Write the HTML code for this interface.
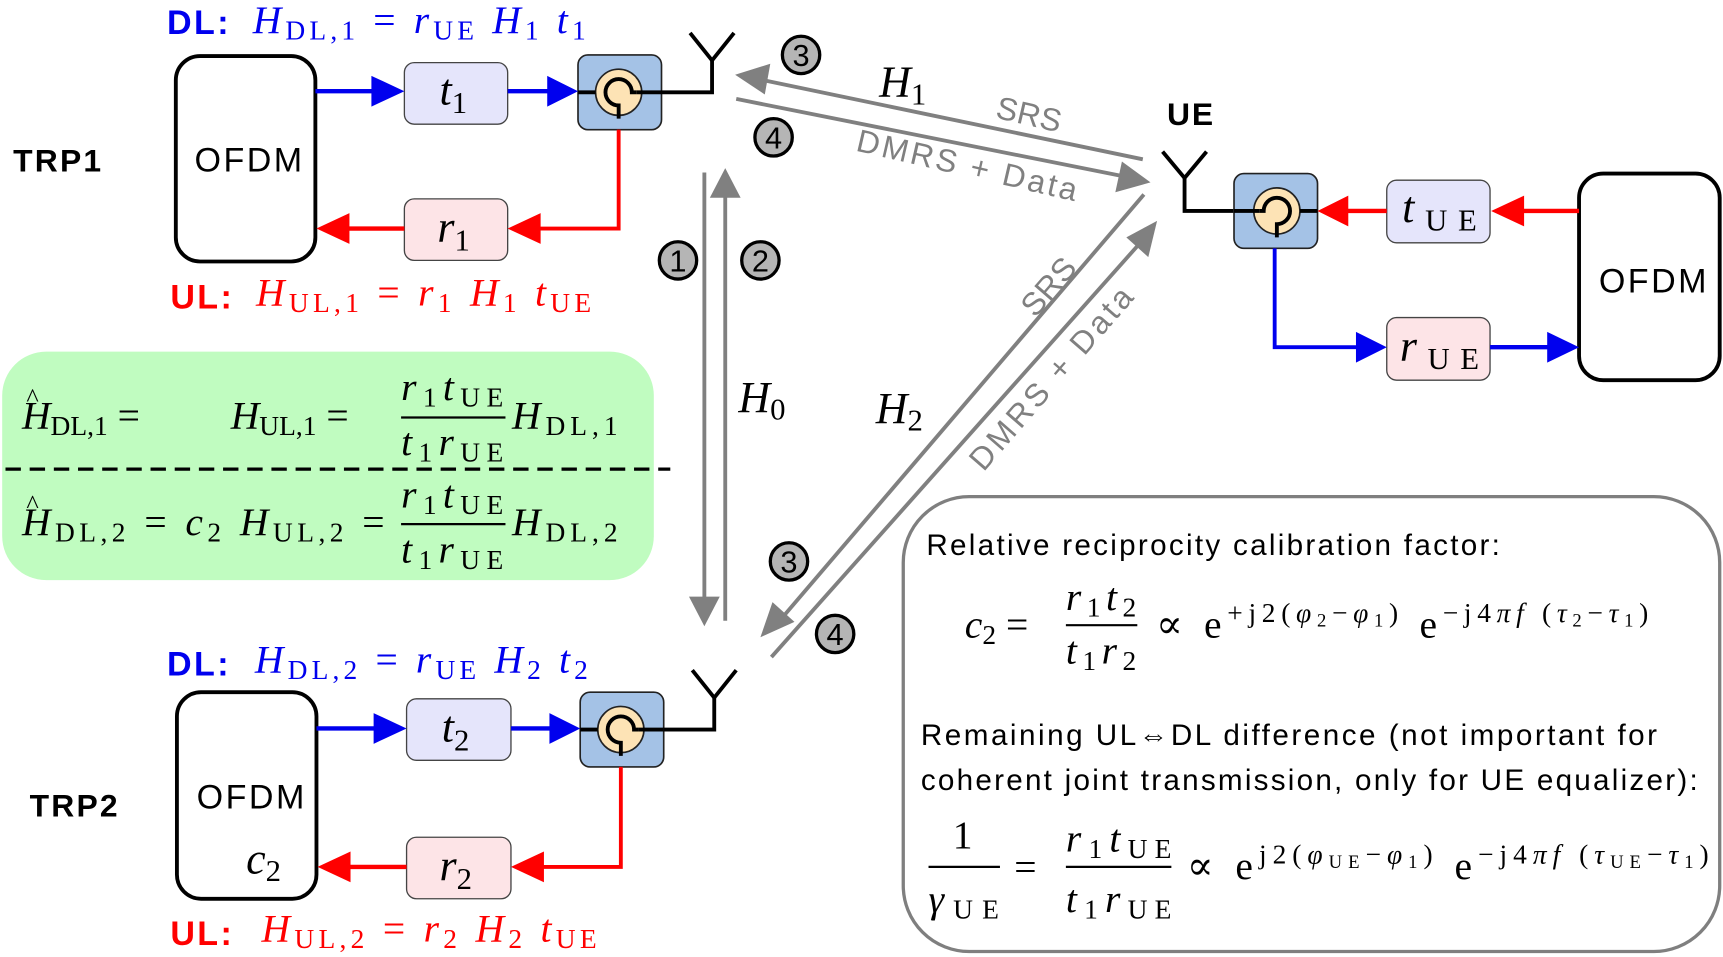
<!DOCTYPE html>
<html><head><meta charset="utf-8"><style>
html,body{margin:0;padding:0;background:#fff;}
svg{display:block;}
.m{font-family:"Liberation Serif","DejaVu Serif",serif;font-style:italic;}
.r{font-style:normal;}
.s{font-family:"Liberation Sans","DejaVu Sans",sans-serif;}
.b{font-weight:bold;}
</style></head><body>
<svg width="1723" height="957" viewBox="0 0 1568 871" preserveAspectRatio="none" xmlns="http://www.w3.org/2000/svg">
<defs>
<g id="circ">
<rect x="0" y="0" width="76" height="68" rx="9" fill="#a4c2e6" stroke="#222" stroke-width="1.5"/>
<circle cx="37" cy="34" r="21" fill="#fde3b5" stroke="#222" stroke-width="1.5"/>
<path d="M37 58 L37 46 A12 12 0 1 1 49 34 L53 34" fill="none" stroke="#000" stroke-width="3.5"/>
<line x1="0" y1="34" x2="16" y2="34" stroke="#000" stroke-width="3.5"/>
<line x1="53" y1="34" x2="76" y2="34" stroke="#000" stroke-width="3.5"/>
</g>
<g id="circnum"><circle r="17" fill="#b5b5b5" stroke="#000" stroke-width="3"/></g>
</defs>

<!-- ===== TRP1 ===== -->
<text x="152" y="31" class="s b" font-size="31" fill="#0000ee" textLength="56">DL:</text>
<text x="230" y="30" class="m" font-size="36" fill="#0000ee" textLength="303" lengthAdjust="spacing">H<tspan font-size="25" dy="6" class="r">DL,1</tspan><tspan dy="-6" class="r"> = </tspan>r<tspan font-size="25" dy="6" class="r">UE</tspan><tspan dy="-6"> H</tspan><tspan font-size="25" dy="6" class="r">1</tspan><tspan dy="-6"> t</tspan><tspan font-size="25" dy="6" class="r">1</tspan></text>
<text x="12" y="156" class="s b" font-size="29" textLength="80">TRP1</text>
<rect x="160" y="51" width="127" height="187" rx="22" fill="#fff" stroke="#000" stroke-width="3.5"/>
<text x="177" y="156" class="s" font-size="31" textLength="98">OFDM</text>
<rect x="368" y="57" width="94" height="56" rx="9" fill="#e5e5fb" stroke="#444" stroke-width="1.2"/>
<text x="400" y="95" class="m" font-size="40">t<tspan font-size="28" dy="8" class="r">1</tspan></text>
<rect x="368" y="181" width="94" height="56" rx="9" fill="#fde4e7" stroke="#444" stroke-width="1.2"/>
<text x="398" y="220" class="m" font-size="40">r<tspan font-size="28" dy="8" class="r">1</tspan></text>
<use href="#circ" x="526" y="50"/>
<line x1="287" y1="83" x2="340" y2="83" stroke="#0000ee" stroke-width="4"/>
<polygon points="338,69 368,83 338,97" fill="#0000ee"/>
<line x1="462" y1="83" x2="500" y2="83" stroke="#0000ee" stroke-width="4"/>
<polygon points="498,69 526,83 498,97" fill="#0000ee"/>
<polyline points="602,84 648,84 648,55" fill="none" stroke="#000" stroke-width="3.5"/>
<polyline points="628,30 648,55 668,30" fill="none" stroke="#000" stroke-width="3.5"/>
<polyline points="563,118 563,208 490,208" fill="none" stroke="#f00" stroke-width="3.5"/>
<polygon points="492,194 462,208 492,222" fill="#f00"/>
<line x1="368" y1="208" x2="315" y2="208" stroke="#f00" stroke-width="4"/>
<polygon points="318,194 288,208 318,222" fill="#f00"/>
<text x="155" y="281" class="s b" font-size="31" fill="#f00" textLength="56">UL:</text>
<text x="233" y="278" class="m" font-size="36" fill="#f00" textLength="305" lengthAdjust="spacing">H<tspan font-size="25" dy="6" class="r">UL,1</tspan><tspan dy="-6" class="r"> = </tspan>r<tspan font-size="25" dy="6" class="r">1</tspan><tspan dy="-6"> H</tspan><tspan font-size="25" dy="6" class="r">1</tspan><tspan dy="-6"> t</tspan><tspan font-size="25" dy="6" class="r">UE</tspan></text>

<!-- ===== Green box ===== -->
<rect x="2" y="320" width="593" height="208" rx="40" fill="#c0fcc0"/>
<line x1="5" y1="427" x2="610" y2="427" stroke="#000" stroke-width="3" stroke-dasharray="14,8"/>
<text x="20" y="390" class="m" font-size="36">H<tspan font-size="25" dy="6" class="r">DL,1</tspan><tspan dy="-6" class="r"> =</tspan></text>
<text x="24" y="370" class="m" font-size="24" style="font-style:normal">^</text>
<text x="210" y="390" class="m" font-size="36">H<tspan font-size="25" dy="6" class="r">UL,1</tspan><tspan dy="-6" class="r"> =</tspan></text>
<text x="365" y="364" class="m" font-size="36" textLength="93">r<tspan font-size="25" dy="6" class="r">1</tspan><tspan dy="-6">t</tspan><tspan font-size="25" dy="6" class="r">UE</tspan></text>
<line x1="365" y1="380" x2="460" y2="380" stroke="#000" stroke-width="2"/>
<text x="365" y="414" class="m" font-size="36" textLength="93">t<tspan font-size="25" dy="6" class="r">1</tspan><tspan dy="-6">r</tspan><tspan font-size="25" dy="6" class="r">UE</tspan></text>
<text x="466" y="390" class="m" font-size="36" textLength="96">H<tspan font-size="25" dy="6" class="r">DL,1</tspan></text>

<text x="20" y="487" class="m" font-size="36" textLength="330">H<tspan font-size="25" dy="6" class="r">DL,2</tspan><tspan dy="-6" class="r"> = </tspan>c<tspan font-size="25" dy="6" class="r">2</tspan><tspan dy="-6"> H</tspan><tspan font-size="25" dy="6" class="r">UL,2</tspan><tspan dy="-6" class="r"> =</tspan></text>
<text x="24" y="467" class="m" font-size="24" style="font-style:normal">^</text>
<text x="365" y="462" class="m" font-size="36" textLength="93">r<tspan font-size="25" dy="6" class="r">1</tspan><tspan dy="-6">t</tspan><tspan font-size="25" dy="6" class="r">UE</tspan></text>
<line x1="365" y1="477" x2="460" y2="477" stroke="#000" stroke-width="2"/>
<text x="365" y="512" class="m" font-size="36" textLength="93">t<tspan font-size="25" dy="6" class="r">1</tspan><tspan dy="-6">r</tspan><tspan font-size="25" dy="6" class="r">UE</tspan></text>
<text x="466" y="487" class="m" font-size="36" textLength="96">H<tspan font-size="25" dy="6" class="r">DL,2</tspan></text>

<!-- ===== Vertical H0 ===== -->
<line x1="641" y1="157" x2="641" y2="545" stroke="#808080" stroke-width="3.5"/>
<polygon points="627,543 641,570 655,543" fill="#808080"/>
<line x1="660" y1="565" x2="660" y2="178" stroke="#808080" stroke-width="3.5"/>
<polygon points="646,180 660,153 674,180" fill="#808080"/>
<text x="672" y="375" class="m" font-size="40">H<tspan font-size="28" dy="7" class="r">0</tspan></text>

<!-- ===== H1 ===== -->
<line x1="1040" y1="145" x2="695" y2="73" stroke="#808080" stroke-width="3.5"/>
<polygon points="669,68 701,58 696,86" fill="#808080"/>
<line x1="670" y1="90" x2="1020" y2="160" stroke="#808080" stroke-width="3.5"/>
<polygon points="1047,166 1015,175 1021,147" fill="#808080"/>
<text x="800" y="88" class="m" font-size="40">H<tspan font-size="28" dy="7" class="r">1</tspan></text>
<text x="905" y="107" class="s" font-size="29" fill="#808080" transform="rotate(13 905 107)" textLength="60">SRS</text>
<text x="778" y="137" class="s" font-size="29" fill="#808080" transform="rotate(13 778 137)" textLength="205">DMRS + Data</text>

<!-- ===== H2 ===== -->
<line x1="1041" y1="177" x2="712" y2="562" stroke="#808080" stroke-width="3.5"/>
<polygon points="692,580 703,548 723,566" fill="#808080"/>
<line x1="702" y1="598" x2="1035" y2="224" stroke="#808080" stroke-width="3.5"/>
<polygon points="1053,201 1045,234 1025,216" fill="#808080"/>
<text x="797" y="385" class="m" font-size="40">H<tspan font-size="28" dy="7" class="r">2</tspan></text>
<text x="942" y="290" class="s" font-size="29" fill="#808080" transform="rotate(-49 942 290)" textLength="60">SRS</text>
<text x="895" y="430" class="s" font-size="29" fill="#808080" transform="rotate(-49 895 430)" textLength="210">DMRS + Data</text>

<g class="s" font-size="28" text-anchor="middle">
<use href="#circnum" x="617" y="237"/><text x="617" y="247">1</text>
<use href="#circnum" x="692" y="237"/><text x="692" y="247">2</text>
<use href="#circnum" x="729" y="50"/><text x="729" y="60">3</text>
<use href="#circnum" x="704" y="125"/><text x="704" y="135">4</text>
<use href="#circnum" x="718" y="511"/><text x="718" y="521">3</text>
<use href="#circnum" x="760" y="577"/><text x="760" y="587">4</text>
</g>

<!-- ===== TRP2 ===== -->
<text x="152" y="615" class="s b" font-size="31" fill="#0000ee" textLength="56">DL:</text>
<text x="232" y="612" class="m" font-size="36" fill="#0000ee" textLength="303" lengthAdjust="spacing">H<tspan font-size="25" dy="6" class="r">DL,2</tspan><tspan dy="-6" class="r"> = </tspan>r<tspan font-size="25" dy="6" class="r">UE</tspan><tspan dy="-6"> H</tspan><tspan font-size="25" dy="6" class="r">2</tspan><tspan dy="-6"> t</tspan><tspan font-size="25" dy="6" class="r">2</tspan></text>
<text x="27" y="743" class="s b" font-size="29" textLength="80">TRP2</text>
<rect x="161" y="630" width="127" height="188" rx="22" fill="#fff" stroke="#000" stroke-width="3.5"/>
<text x="179" y="736" class="s" font-size="31" textLength="98">OFDM</text>
<text x="224" y="795" class="m" font-size="40">c<tspan font-size="28" dy="7" class="r">2</tspan></text>
<rect x="370" y="636" width="95" height="56" rx="9" fill="#e5e5fb" stroke="#444" stroke-width="1.2"/>
<text x="402" y="675" class="m" font-size="40">t<tspan font-size="28" dy="8" class="r">2</tspan></text>
<rect x="370" y="762" width="95" height="56" rx="9" fill="#fde4e7" stroke="#444" stroke-width="1.2"/>
<text x="400" y="801" class="m" font-size="40">r<tspan font-size="28" dy="8" class="r">2</tspan></text>
<use href="#circ" x="528" y="630"/>
<line x1="288" y1="663" x2="342" y2="663" stroke="#0000ee" stroke-width="4"/>
<polygon points="340,649 370,663 340,677" fill="#0000ee"/>
<line x1="465" y1="663" x2="502" y2="663" stroke="#0000ee" stroke-width="4"/>
<polygon points="500,649 528,663 500,677" fill="#0000ee"/>
<polyline points="604,664 650,664 650,635" fill="none" stroke="#000" stroke-width="3.5"/>
<polyline points="630,610 650,635 670,610" fill="none" stroke="#000" stroke-width="3.5"/>
<polyline points="565,698 565,789 493,789" fill="none" stroke="#f00" stroke-width="3.5"/>
<polygon points="495,775 465,789 495,803" fill="#f00"/>
<line x1="370" y1="789" x2="316" y2="789" stroke="#f00" stroke-width="4"/>
<polygon points="319,775 289,789 319,803" fill="#f00"/>
<text x="155" y="860" class="s b" font-size="31" fill="#f00" textLength="56">UL:</text>
<text x="238" y="857" class="m" font-size="36" fill="#f00" textLength="305" lengthAdjust="spacing">H<tspan font-size="25" dy="6" class="r">UL,2</tspan><tspan dy="-6" class="r"> = </tspan>r<tspan font-size="25" dy="6" class="r">2</tspan><tspan dy="-6"> H</tspan><tspan font-size="25" dy="6" class="r">2</tspan><tspan dy="-6"> t</tspan><tspan font-size="25" dy="6" class="r">UE</tspan></text>

<!-- ===== UE ===== -->
<text x="1062" y="114" class="s b" font-size="29" textLength="42">UE</text>
<polyline points="1058,138 1078,162 1098,138" fill="none" stroke="#000" stroke-width="3.5"/>
<polyline points="1078,162 1078,192 1124,192" fill="none" stroke="#000" stroke-width="3.5"/>
<g transform="translate(1199,158) scale(-1,1)"><use href="#circ" x="0" y="0"/></g>
<rect x="1262" y="164" width="94" height="57" rx="9" fill="#e5e5fb" stroke="#444" stroke-width="1.2"/>
<text x="1276" y="202" class="m" font-size="40" textLength="68">t<tspan font-size="28" dy="8" class="r">UE</tspan></text>
<rect x="1262" y="289" width="94" height="57" rx="9" fill="#fde4e7" stroke="#444" stroke-width="1.2"/>
<text x="1274" y="328" class="m" font-size="40" textLength="72">r<tspan font-size="28" dy="8" class="r">UE</tspan></text>
<rect x="1437" y="158" width="128" height="188" rx="22" fill="#fff" stroke="#000" stroke-width="3.5"/>
<text x="1455" y="266" class="s" font-size="31" textLength="98">OFDM</text>
<line x1="1437" y1="192" x2="1385" y2="192" stroke="#f00" stroke-width="4"/>
<polygon points="1387,178 1357,192 1387,206" fill="#f00"/>
<line x1="1262" y1="192" x2="1225" y2="192" stroke="#f00" stroke-width="4"/>
<polygon points="1227,178 1199,192 1227,206" fill="#f00"/>
<polyline points="1160,226 1160,316 1236,316" fill="none" stroke="#0000ee" stroke-width="3.5"/>
<polygon points="1234,302 1262,316 1234,330" fill="#0000ee"/>
<line x1="1356" y1="316" x2="1410" y2="316" stroke="#0000ee" stroke-width="4"/>
<polygon points="1408,302 1437,316 1408,330" fill="#0000ee"/>

<!-- ===== Big box ===== -->
<rect x="822" y="452" width="743" height="414" rx="60" fill="#fff" stroke="#7f7f7f" stroke-width="3"/>
<text x="843" y="505" class="s" font-size="27" textLength="522">Relative reciprocity calibration factor:</text>
<text x="878" y="580" class="m" font-size="36">c<tspan font-size="25" dy="6" class="r">2</tspan><tspan dy="-6" class="r"> =</tspan></text>
<text x="970" y="555" class="m" font-size="36" textLength="64">r<tspan font-size="25" dy="6" class="r">1</tspan><tspan dy="-6">t</tspan><tspan font-size="25" dy="6" class="r">2</tspan></text>
<line x1="970" y1="569" x2="1035" y2="569" stroke="#000" stroke-width="2"/>
<text x="970" y="604" class="m" font-size="36" textLength="64">t<tspan font-size="25" dy="6" class="r">1</tspan><tspan dy="-6">r</tspan><tspan font-size="25" dy="6" class="r">2</tspan></text>
<text x="1052" y="580" class="m" font-size="36" textLength="448" lengthAdjust="spacing"><tspan class="r">∝ e</tspan><tspan font-size="25" dy="-14" class="r">+j2(</tspan><tspan font-size="25">φ</tspan><tspan font-size="17" dy="4" class="r">2</tspan><tspan font-size="25" dy="-4" class="r">−</tspan><tspan font-size="25">φ</tspan><tspan font-size="17" dy="4" class="r">1</tspan><tspan font-size="25" dy="-4" class="r">)</tspan><tspan dy="14" class="r"> e</tspan><tspan font-size="25" dy="-14" class="r">−j4</tspan><tspan font-size="25">πf</tspan><tspan font-size="25" class="r"> (</tspan><tspan font-size="25">τ</tspan><tspan font-size="17" dy="4" class="r">2</tspan><tspan font-size="25" dy="-4" class="r">−</tspan><tspan font-size="25">τ</tspan><tspan font-size="17" dy="4" class="r">1</tspan><tspan font-size="25" dy="-4" class="r">)</tspan></text>
<text x="838" y="678" class="s" font-size="27" textLength="670">Remaining UL⇔DL difference (not important for</text>
<text x="838" y="719" class="s" font-size="27" textLength="707">coherent joint transmission, only for UE equalizer):</text>
<text x="876" y="772" class="m" font-size="36" text-anchor="middle" style="font-style:normal">1</text>
<line x1="845" y1="789" x2="910" y2="789" stroke="#000" stroke-width="2"/>
<text x="845" y="830" class="m" font-size="36" textLength="64">γ<tspan font-size="25" dy="6" class="r">UE</tspan></text>
<text x="923" y="801" class="m" font-size="36" style="font-style:normal">=</text>
<text x="970" y="775" class="m" font-size="36" textLength="96">r<tspan font-size="25" dy="6" class="r">1</tspan><tspan dy="-6">t</tspan><tspan font-size="25" dy="6" class="r">UE</tspan></text>
<line x1="970" y1="789" x2="1066" y2="789" stroke="#000" stroke-width="2"/>
<text x="970" y="830" class="m" font-size="36" textLength="96">t<tspan font-size="25" dy="6" class="r">1</tspan><tspan dy="-6">r</tspan><tspan font-size="25" dy="6" class="r">UE</tspan></text>
<text x="1080" y="800" class="m" font-size="36" textLength="475" lengthAdjust="spacing"><tspan class="r">∝ e</tspan><tspan font-size="25" dy="-14" class="r">j2(</tspan><tspan font-size="25">φ</tspan><tspan font-size="17" dy="4" class="r">UE</tspan><tspan font-size="25" dy="-4" class="r">−</tspan><tspan font-size="25">φ</tspan><tspan font-size="17" dy="4" class="r">1</tspan><tspan font-size="25" dy="-4" class="r">)</tspan><tspan dy="14" class="r"> e</tspan><tspan font-size="25" dy="-14" class="r">−j4</tspan><tspan font-size="25">πf</tspan><tspan font-size="25" class="r"> (</tspan><tspan font-size="25">τ</tspan><tspan font-size="17" dy="4" class="r">UE</tspan><tspan font-size="25" dy="-4" class="r">−</tspan><tspan font-size="25">τ</tspan><tspan font-size="17" dy="4" class="r">1</tspan><tspan font-size="25" dy="-4" class="r">)</tspan></text>
</svg>
</body></html>
